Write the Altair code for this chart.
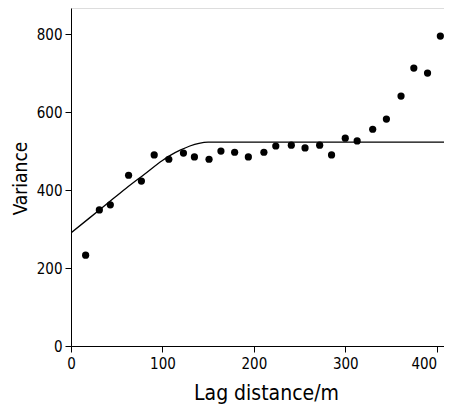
import altair as alt
import pandas as pd

# Experimental semivariogram points
lag = [16, 31, 43, 63, 77, 91, 107, 123, 135, 151, 164, 179, 194, 211, 224,
       241, 256, 272, 285, 300, 313, 330, 345, 361, 375, 390, 404]
variance = [233, 349, 362, 438, 423, 490, 479, 495, 485, 479, 500, 497, 485,
            497, 513, 515, 508, 515, 490, 533, 526, 556, 582, 641, 713, 700, 795]

# Fitted model curve
model_lag = [0, 20, 40, 60, 80, 100, 110, 120, 130, 140, 150, 410]
model_var = [290, 328, 366, 404, 440, 476, 491, 503, 513, 520, 523, 523]

x_ticks = [0, 100, 200, 300, 400]
y_ticks = [0, 200, 400, 600, 800]

pts = pd.DataFrame({"lag": lag, "variance": variance})
mdl = pd.DataFrame({"lag": model_lag, "variance": model_var})

FONT = "DejaVu Sans Condensed, DejaVu Sans, sans-serif"

xs = alt.Scale(domain=[0, 408], nice=False, zero=True)
ys = alt.Scale(domain=[0, 867], nice=False)

xax = alt.Axis(values=x_ticks, title="Lag distance/m", grid=False,
               labelFont=FONT, labelFontSize=15, labelColor="black",
               labelAlign=alt.condition("datum.value >= 400", alt.value("right"), alt.value("center")),
               labelPadding=4, tickSize=6, tickColor="black", domainColor="black",
               titleFont=FONT, titleFontSize=21, titleFontWeight="normal",
               titleColor="black", titleY=53, titleX=195, titleAlign="center",
               titleBaseline="alphabetic")
yax = alt.Axis(values=y_ticks, title="Variance", grid=False,
               labelFont=FONT, labelFontSize=15, labelColor="black",
               labelPadding=3, tickSize=6, tickColor="black", domainColor="black",
               titleFont=FONT, titleFontSize=19, titleFontWeight="normal",
               titleColor="black", titleX=-45, titleY=170, titleAngle=-90,
               titleAlign="center", titleBaseline="alphabetic")

points = alt.Chart(pts).mark_circle(size=52, color="black", opacity=1).encode(
    x=alt.X("lag:Q", scale=xs, axis=xax),
    y=alt.Y("variance:Q", scale=ys, axis=yax),
)

line = alt.Chart(mdl).mark_line(color="black", strokeWidth=1.3, interpolate="monotone", clip=True).encode(
    x=alt.X("lag:Q", scale=xs),
    y=alt.Y("variance:Q", scale=ys),
)

chart = (line + points).properties(
    width=373, height=338,
    autosize=alt.AutoSizeParams(type="none"),
    padding={"left": 63, "top": 0, "right": 0, "bottom": 58},
).configure_view(stroke=None).configure(background="white")

chart.save("out.html", embed_options={"renderer": "svg", "actions": False})
